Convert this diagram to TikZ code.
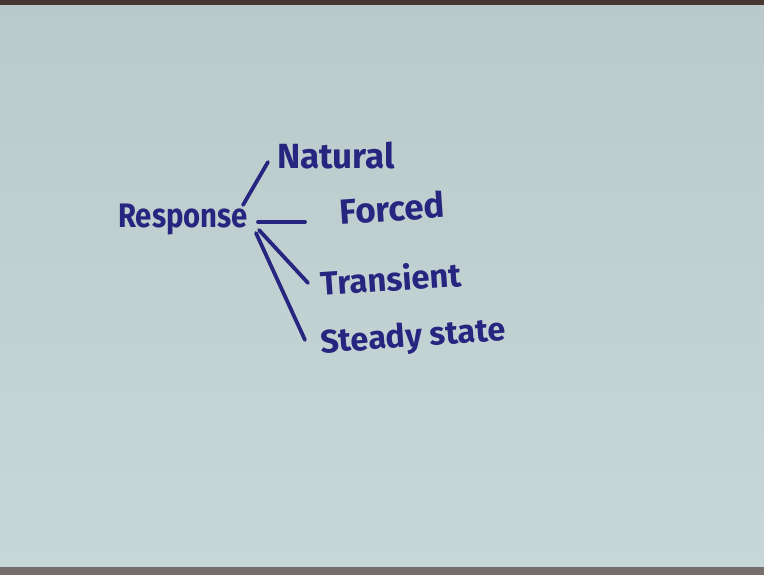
\documentclass[tikz,border=0pt]{standalone}
\usepackage{fontspec}
\setmainfont{Fira Sans}
\definecolor{paperTop}{RGB}{186,201,202}
\definecolor{paperBot}{RGB}{200,216,216}
\definecolor{ink}{RGB}{38,38,128}
\definecolor{edge}{RGB}{70,55,50}
\begin{document}
\begin{tikzpicture}[x=1pt,y=-1pt,
  hand/.style={text=ink,inner sep=0pt,anchor=center,font=\bfseries},
  stroke/.style={draw=ink,line width=3.8pt,line cap=round}]
\useasboundingbox (0,0) rectangle (764,575);
\shade[top color=paperTop,bottom color=paperBot] (0,0) rectangle (764,575);
\fill[edge] (0,0) rectangle (764,5);
\fill[edge!65!paperBot] (0,567) rectangle (764,575);
% nodes
\node[hand,xscale=0.86] (resp) at (183,219) {\fontsize{34}{37}\selectfont Response};
\node[hand] (nat) at (336,156) {\fontsize{35}{38}\selectfont Natural};
\node[hand,rotate=4] (forc) at (392,208) {\fontsize{35}{38}\selectfont Forced};
\node[hand,rotate=4] (trans) at (391,278) {\fontsize{33}{36}\selectfont Transient};
\node[hand,rotate=4] (steady) at (413,338) {\fontsize{32.5}{35}\selectfont Steady state};
% connector ends
\coordinate (hubN) at (243,205);
\coordinate (hubF) at (258,222);
\coordinate (hubT) at (259,230);
\coordinate (hubS) at (256,233);
\coordinate (endN) at (268,162);
\coordinate (endF) at (305,222);
\coordinate (endT) at (308,283);
\coordinate (endS) at (305,340);
\draw[stroke] (hubN) -- (endN);
\draw[stroke] (hubF) -- (endF);
\draw[stroke] (hubT) -- (endT);
\draw[stroke] (hubS) -- (endS);
\end{tikzpicture}
\end{document}
